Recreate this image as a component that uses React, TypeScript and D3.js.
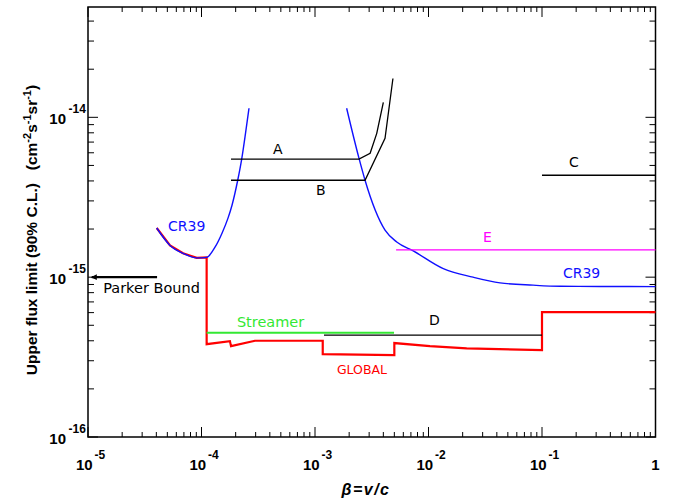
import React from "react";
import * as d3 from "d3";

const W = 674;
const H = 500;
const X0 = 88;
const X1 = 655.5;
const Y0 = 7;
const Y1 = 437;

// axis ticks
const xTickExps = [-5, -4, -3, -2, -1, 0];
const yTickExps = [-16, -15, -14];
const minorMults = [2, 3, 4, 5, 6, 7, 8, 9];

// CR39 low-velocity branch
const cr39LowBeta = [4.03e-5, 5.28e-5, 6.87e-5, 9.08e-5, 1.11e-4, 1.315e-4, 1.516e-4, 1.712e-4, 1.857e-4, 2.085e-4, 2.26e-4, 2.442e-4, 2.62e-4];
const cr39LowFlux = [2.03e-15, 1.58e-15, 1.41e-15, 1.32e-15, 1.33e-15, 1.54e-15, 1.884e-15, 2.34e-15, 2.82e-15, 4.04e-15, 5.48e-15, 7.94e-15, 1.14e-14];

// CR39 high-velocity branch
const cr39HighBeta = [1.9e-3, 2.44e-3, 2.76e-3, 4.14e-3, 5.25e-3, 7.34e-3, 1.35e-2, 2.47e-2, 4.27e-2, 8.34e-2, 0.144, 0.324, 1];
const cr39HighFlux = [1.14e-14, 5.55e-15, 4.04e-15, 1.97e-15, 1.66e-15, 1.46e-15, 1.13e-15, 1.0e-15, 9.21e-16, 8.91e-16, 8.77e-16, 8.75e-16, 8.73e-16];

// GLOBAL limit
const globalBeta = [4.03e-5, 5.28e-5, 6.87e-5, 9.08e-5, 1.11e-4, 1.11e-4, 1.78e-4, 1.82e-4, 2.96e-4, 1.17e-3, 1.17e-3, 5.0e-3, 5.0e-3, 1.03e-2, 2.17e-2, 0.1, 0.1, 1];
const globalFlux = [2.03e-15, 1.58e-15, 1.41e-15, 1.32e-15, 1.33e-15, 3.81e-16, 3.98e-16, 3.7e-16, 4.0e-16, 4.0e-16, 3.3e-16, 3.25e-16, 3.87e-16, 3.7e-16, 3.58e-16, 3.5e-16, 6.04e-16, 6.04e-16];

// Experiment A and B
const aBeta = [1.82e-4, 2.44e-3, 3.06e-3, 3.5e-3, 4.0e-3];
const aFlux = [5.48e-15, 5.48e-15, 5.96e-15, 7.94e-15, 1.24e-14];
const bBeta = [1.82e-4, 2.76e-3, 4.14e-3, 4.86e-3];
const bFlux = [4.04e-15, 4.04e-15, 7.39e-15, 1.75e-14];

// Flat limits
const cBeta = [0.1, 1];
const cFlux = [4.34e-15, 4.34e-15];
const eBeta = [5.18e-3, 1];
const eFlux = [1.48e-15, 1.48e-15];
const dBeta = [1.2e-3, 0.1];
const dFlux = [4.34e-16, 4.34e-16];
const streamerBeta = [1.11e-4, 4.97e-3];
const streamerFlux = [4.49e-16, 4.49e-16];
const parkerBeta = [1.08e-5, 4.06e-5];
const parkerFlux = [1e-15, 1e-15];

// annotation labels
const labelText = ["CR39", "CR39", "Parker Bound", "A", "B", "C", "D", "E", "Streamer", "GLOBAL"];
const labelBeta = [5.07e-5, 0.153, 1.36e-5, 4.27e-4, 1.02e-3, 0.173, 1.01e-2, 3.02e-2, 2.05e-4, 1.56e-3];
const labelFlux = [1.94e-15, 9.86e-16, 7.94e-16, 5.88e-15, 3.25e-15, 4.87e-15, 5.01e-16, 1.65e-15, 4.87e-16, 2.48e-16];
const labelColor = ["#1010ff", "#1010ff", "#000", "#000", "#000", "#000", "#000", "#ff00ff", "#33e833", "#ff0000"];
const labelSize = [14, 14, 14.5, 14, 14, 14, 14, 14, 14.5, 12.5];

const zip = (a: number[], b: number[]) => a.map((v, i) => [v, b[i]] as [number, number]);

export default function App() {
  const x = d3.scaleLog().domain([1e-5, 1]).range([X0, X1]);
  const y = d3.scaleLog().domain([1e-16, 4.9e-14]).range([Y1, Y0]);

  const line = d3
    .line<[number, number]>()
    .x((d) => x(d[0]))
    .y((d) => y(d[1]));
  const smooth = d3
    .line<[number, number]>()
    .x((d) => x(d[0]))
    .y((d) => y(d[1]))
    .curve(d3.curveMonotoneX);

  const xMajor = xTickExps.map((e) => Math.pow(10, e));
  const xMinor: number[] = [];
  xTickExps.slice(0, -1).forEach((e) => minorMults.forEach((m) => xMinor.push(m * Math.pow(10, e))));
  const yMajor = yTickExps.map((e) => Math.pow(10, e));
  const yMinor: number[] = [];
  yTickExps.forEach((e) =>
    minorMults.forEach((m) => {
      const v = m * Math.pow(10, e);
      if (v <= 4.9e-14) yMinor.push(v);
    })
  );

  const tickFont = "'Liberation Sans', Arial, sans-serif";
  const annFont = "'DejaVu Sans', sans-serif";

  const px0 = x(parkerBeta[0]);
  const py0 = y(parkerFlux[0]);

  return (
    <svg width={W} height={H} style={{ position: "absolute", left: 0, top: 0, background: "#fff" }}>
      {/* ticks */}
      <g stroke="#000" strokeWidth={1}>
        {xMajor.map((v, i) => (
          <g key={"xM" + i}>
            <line x1={x(v)} x2={x(v)} y1={Y1} y2={Y1 - 10} />
            <line x1={x(v)} x2={x(v)} y1={Y0} y2={Y0 + 10} />
          </g>
        ))}
        {xMinor.map((v, i) => (
          <g key={"xm" + i}>
            <line x1={x(v)} x2={x(v)} y1={Y1} y2={Y1 - 5} />
            <line x1={x(v)} x2={x(v)} y1={Y0} y2={Y0 + 5} />
          </g>
        ))}
        {yMajor.map((v, i) => (
          <g key={"yM" + i}>
            <line x1={X0} x2={X0 + 10} y1={y(v)} y2={y(v)} />
            <line x1={X1} x2={X1 - 10} y1={y(v)} y2={y(v)} />
          </g>
        ))}
        {yMinor.map((v, i) => (
          <g key={"ym" + i}>
            <line x1={X0} x2={X0 + 6} y1={y(v)} y2={y(v)} />
            <line x1={X1} x2={X1 - 6} y1={y(v)} y2={y(v)} />
          </g>
        ))}
      </g>
      {/* frame */}
      <rect x={X0} y={Y0} width={X1 - X0} height={Y1 - Y0} fill="none" stroke="#000" strokeWidth={1.5} />

      {/* x tick labels */}
      <g fontFamily={tickFont} fontWeight="bold" fill="#000">
        {xTickExps.map((e, i) => {
          const tx = x(Math.pow(10, e));
          if (e === 0)
            return (
              <text key={"xl" + i} x={tx} y={470} fontSize={15} textAnchor="middle">
                1
              </text>
            );
          return (
            <g key={"xl" + i}>
              <text x={tx - 12} y={470} fontSize={15}>
                10
              </text>
              <text x={tx + 6.5} y={459} fontSize={12}>
                {String(e)}
              </text>
            </g>
          );
        })}
        {yTickExps.map((e, i) => {
          const ty = y(Math.pow(10, e));
          return (
            <g key={"yl" + i}>
              <text x={66} y={ty + 7} fontSize={15} textAnchor="end">
                10
              </text>
              <text x={68.5} y={ty - 4} fontSize={12}>
                {String(e)}
              </text>
            </g>
          );
        })}
      </g>

      {/* axis titles */}
      <text
        x={366}
        y={495}
        fontFamily={tickFont}
        fontWeight="bold"
        fontStyle="italic"
        fontSize={16}
        letterSpacing={1.5}
        textAnchor="middle"
      >
        β=v/c
      </text>
      <text
        transform="translate(37,230) rotate(-90)"
        fontFamily={tickFont}
        fontWeight="bold"
        fontSize={15.5}
        textAnchor="middle"
      >
        {"Upper flux limit (90% C.L.)\u00a0\u00a0\u00a0(cm"}
        <tspan dy={-6} fontSize={11}>-2</tspan>
        <tspan dy={6}>s</tspan>
        <tspan dy={-6} fontSize={11}>-1</tspan>
        <tspan dy={6}>sr</tspan>
        <tspan dy={-6} fontSize={11}>-1</tspan>
        <tspan dy={6}>)</tspan>
      </text>

      {/* data */}
      <path d={line(zip(globalBeta, globalFlux)) || ""} fill="none" stroke="#ff0000" strokeWidth={2.2} strokeLinejoin="miter" />
      <path d={smooth(zip(cr39LowBeta, cr39LowFlux)) || ""} fill="none" stroke="#1010ff" strokeWidth={1.4} />
      <path d={smooth(zip(cr39HighBeta, cr39HighFlux)) || ""} fill="none" stroke="#1010ff" strokeWidth={1.4} />
      <path d={line(zip(aBeta, aFlux)) || ""} fill="none" stroke="#000" strokeWidth={1.3} />
      <path d={line(zip(bBeta, bFlux)) || ""} fill="none" stroke="#000" strokeWidth={1.3} />
      <path d={line(zip(cBeta, cFlux)) || ""} fill="none" stroke="#000" strokeWidth={1.3} />
      <path d={line(zip(dBeta, dFlux)) || ""} fill="none" stroke="#000" strokeWidth={1.3} />
      <path d={line(zip(eBeta, eFlux)) || ""} fill="none" stroke="#ff00ff" strokeWidth={1.3} />
      <path d={line(zip(streamerBeta, streamerFlux)) || ""} fill="none" stroke="#33e833" strokeWidth={2} />
      <path d={line(zip(parkerBeta, parkerFlux)) || ""} fill="none" stroke="#000" strokeWidth={2.2} />
      <path d={`M${px0 - 1},${py0} L${px0 + 5},${py0 - 2.8} L${px0 + 5},${py0 + 2.8} Z`} fill="#000" />

      {/* annotations */}
      {labelText.map((t, i) => (
        <text
          key={"lab" + i}
          x={x(labelBeta[i])}
          y={y(labelFlux[i])}
          fill={labelColor[i]}
          fontFamily={annFont}
          fontSize={labelSize[i]}
        >
          {t}
        </text>
      ))}
    </svg>
  );
}
